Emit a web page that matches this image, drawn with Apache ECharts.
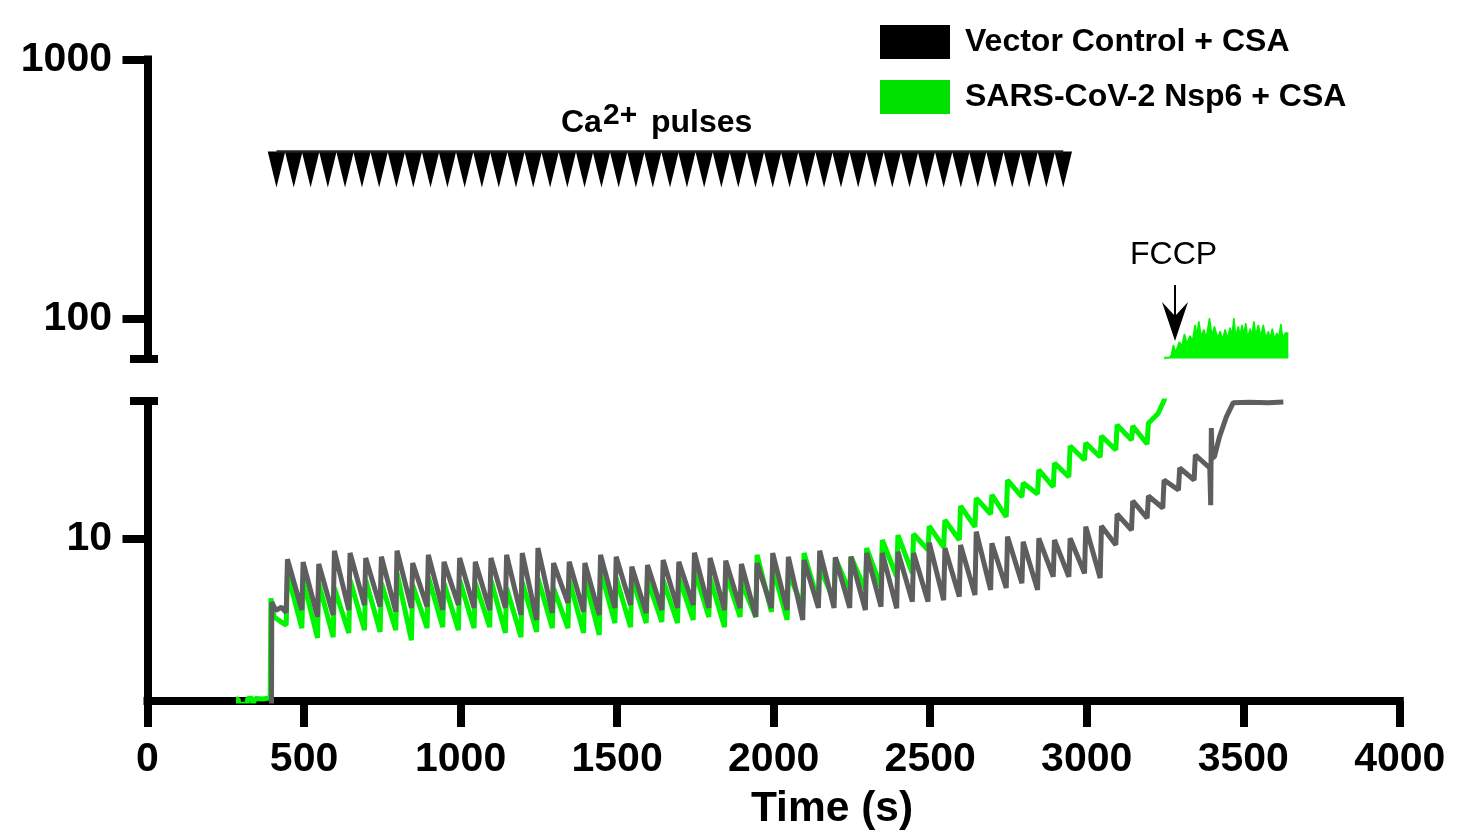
<!DOCTYPE html>
<html><head><meta charset="utf-8">
<script src="https://cdn.jsdelivr.net/npm/echarts@6/dist/echarts.min.js"></script>
<style>html,body{margin:0;padding:0;background:#fff}#c{width:1458px;height:836px}</style>
</head><body><div id="c"></div>
<script>
// ---- data ----
const xTicks = [0, 500, 1000, 1500, 2000, 2500, 3000, 3500, 4000];
const upperTicks = [100, 1000];
const lowerTicks = [10];

// times of the Ca2+ additions seen in the traces (s)
const pulseTimes = [447,497,547,597,647,697,747,797,847,897,947,997,1047,1097,1147,1197,1247,1297,1347,1397,1447,1497,1547,1597,1647,1697,1747,1797,1847,1897,1947,1997,2047,2097,2147,2197,2247,2297,2347,2397,2447,2497,2547,2597,2647,2697,2747,2797,2847,2897,2947,2997,3047,3097,3147,3197,3247,3297,3347];

// Vector Control + CSA (grey)
const grayLead = [[380,2.2],[396,2.2],[397,5.7],[410,5.3],[428,5.45],[443,5.2]];
const grayPeaks = [8.35,8.14,8.01,9.01,8.83,8.45,8.54,9.01,8.08,8.68,8.17,8.45,8.17,8.45,8.68,8.83,9.23,8.08,
  8.17,8.08,8.68,8.54,7.82,7.94,8.30,8.17,8.85,8.45,8.25,8.01,8.08,8.83,8.54,8.30,9.01,8.50,8.54,
  8.83,8.83,8.93,8.83,9.68,9.23,9.48,10.67,9.63,10.21,9.76,10.06,9.91,10.06,11.16,
  11.22,12.49,14.02,14.66,16.89,18.80,21.1];
const grayTroughs = [5.32,5.01,5.09,5.32,5.56,5.48,5.24,5.42,5.48,5.32,5.56,5.42,5.32,5.42,5.09,4.87,5.18,5.66,
  5.24,5.09,5.42,5.56,5.18,5.32,5.42,5.56,5.42,5.32,5.42,5.01,5.42,5.32,4.87,5.42,5.42,5.42,
  5.32,5.48,5.40,5.73,5.73,5.81,5.99,6.08,6.36,6.47,6.75,6.36,7.15,7.15,7.37,7.07,
  9.48,10.83,12.05,13.17,15.46,16.89,18.80];
const grayTail = [[3396,13.5],[3398,26.8],[3401,20.5],[3408,20.8],[3424,24.8],[3446,29.6],[3468,33.6],[3520,33.7],[3580,33.6],[3628,33.8]];

// SARS-CoV-2 Nsp6 + CSA (green)
const greenLead = [[283,2.41],[290,2.41],[291,2.30],[318,2.30],[320,2.42],[335,2.43],[336,2.30],[342,2.30],[344,2.42],[370,2.41],[392,2.44],[394,5.9],[405,5.0],[425,4.8],[443,4.65]];
const greenPeaks = [7.39,6.95,6.76,6.47,6.95,6.95,6.76,7.39,6.64,7.13,6.76,6.95,6.76,6.95,6.47,6.82,7.07,6.47,
  6.95,7.07,7.59,7.07,7.13,6.95,6.95,7.13,7.59,7.07,7.39,6.82,8.68,7.80,7.39,8.83,7.73,8.45,8.55,
  9.23,9.91,10.36,
  10.45,11.22,11.84,13.41,14.39,14.79,16.89,16.45,18.47,19.65,22.86,23.48,24.98,27.55,27.31,
  28.0];
const greenTroughs = [4.53,4.15,4.18,4.34,4.45,4.38,4.45,4.07,4.53,4.57,4.45,4.53,4.57,4.34,4.18,4.38,4.53,4.53,
  4.34,4.26,4.74,4.57,4.74,4.78,4.74,4.87,5.00,4.57,5.00,5.00,5.23,4.87,5.47,5.66,5.81,6.24,
  6.36,6.54,7.15,7.39,
  9.07,9.31,9.91,11.13,12.49,12.16,14.53,14.92,15.88,17.35,20.18,20.73,22.06,24.11,23.27];
const greenTail = [[3228,30.5],[3248,34.5]];
const greenAfterFCCP = [[3250,70.8],[3262,70.5],[3270,72],[3277,79.0],[3284,74],[3296,81.3],[3304,78],[3312,87.1],[3320,80],[3330,85.8],[3338,82],[3346,94.4],[3352,86],[3358,97.4],[3366,85],[3374,90.7],[3382,84],[3392,100.4],[3400,86],[3408,93.2],[3418,84],[3426,89.2],[3434,83],[3442,90.7],[3450,84],[3458,92.1],[3464,86],[3470,100.4],[3476,85],[3484,93.2],[3490,86],[3496,94.4],[3502,87],[3508,96.0],[3514,84],[3522,91.3],[3528,86],[3534,97.4],[3540,86],[3548,94.4],[3556,85],[3564,94.4],[3572,84],[3580,89.2],[3586,84],[3593,91.3],[3600,83],[3607,87.8],[3613,84],[3620,95.2],[3626,84],[3634,87.8],[3644,87.8]];

// arrowheads of the "Ca2+ pulses" annotation row (s)
const pulseMarks = [412,467,521,576,631,685,740,795,849,904,958,1013,1068,1122,1177,1232,1286,1341,1396,1450,1505,1560,1614,1669,1723,1778,1833,1887,1942,1997,2051,2106,2161,2215,2270,2324,2379,2434,2488,2543,2598,2652,2707,2762,2816,2871,2925];

const seriesNames = ['Vector Control + CSA', 'SARS-CoV-2 Nsp6 + CSA'];

// ---- build traces ----
function trace(lead, peaks, troughs, tail) {
  const out = lead.slice();
  for (let i = 0; i < peaks.length; i++) {
    out.push([pulseTimes[i], peaks[i]]);
    if (i < troughs.length) {
      const next = pulseTimes[i + 1];
      out.push([next !== undefined ? next - 4 : pulseTimes[i] + 46, troughs[i]]);
    }
  }
  return out.concat(tail);
}
const grayData = trace(grayLead, grayPeaks, grayTroughs, grayTail);
const greenData = trace(greenLead, greenPeaks, greenTroughs, greenTail).concat(greenAfterFCCP);
const greenUpperData = greenTail.slice(-1).concat(greenAfterFCCP);

const FONT = '"Liberation Sans", Arial, Helvetica, sans-serif';
const GRAY = '#5e5e5e', GREEN = '#00f500';
const markLevel = 441;

const chart = echarts.init(document.getElementById('c'), null, {renderer: 'canvas'});
const axisLineStyle = {color: '#000', width: 8, cap: 'square'};
chart.setOption({
  animation: false,
  backgroundColor: '#fff',
  grid: [
    {left: 147.5, top: 59.5, width: 1252.3, height: 299.1},
    {left: 147.5, top: 401, width: 1252.3, height: 300}
  ],
  xAxis: [
    {gridIndex: 0, type: 'value', min: 0, max: 4000, show: false},
    {gridIndex: 1, type: 'value', min: 0, max: 4000, interval: 500,
     axisLine: {show: true, onZero: false, lineStyle: axisLineStyle},
     axisTick: {show: true, length: 26, lineStyle: {width: 8, color: '#000'}},
     axisLabel: {margin: 38, fontSize: 41, fontWeight: 'bold', color: '#000', fontFamily: FONT,
                 formatter: v => String(v)},
     splitLine: {show: false}}
  ],
  yAxis: [
    {gridIndex: 0, type: 'log', logBase: 10, min: 70, max: 1000, offset: 3.5,
     axisLine: {show: true, lineStyle: axisLineStyle},
     axisTick: {show: true, length: 25, lineStyle: {width: 8, color: '#000'}, customValues: upperTicks},
     axisLabel: {margin: 32, fontSize: 41, fontWeight: 'bold', color: '#000', fontFamily: FONT,
                 customValues: upperTicks, formatter: v => String(Math.round(v))},
     splitLine: {show: false}, minorTick: {show: false}},
    {gridIndex: 1, type: 'log', logBase: 10, min: 2.369, max: 34.1, offset: 3.5,
     axisLine: {show: true, lineStyle: axisLineStyle},
     axisTick: {show: true, length: 25, lineStyle: {width: 8, color: '#000'}, customValues: lowerTicks},
     axisLabel: {margin: 32, fontSize: 41, fontWeight: 'bold', color: '#000', fontFamily: FONT,
                 customValues: lowerTicks, formatter: v => String(Math.round(v))},
     splitLine: {show: false}, minorTick: {show: false}}
  ],
  legend: {
    left: 875, top: 20, orient: 'vertical', itemWidth: 70, itemHeight: 34, itemGap: 21,
    icon: 'rect', selectedMode: false,
    textStyle: {fontSize: 32, fontWeight: 'bold', color: '#000', fontFamily: FONT, padding: [10, 0, 0, 10]},
    data: [
      {name: seriesNames[0], itemStyle: {color: '#000'}},
      {name: seriesNames[1], itemStyle: {color: '#00e100'}}
    ]
  },
  series: [
    {name: seriesNames[1], type: 'line', xAxisIndex: 1, yAxisIndex: 1, data: greenData,
     showSymbol: false, clip: true, lineStyle: {color: GREEN, width: 5}, itemStyle: {color: GREEN}},
    {name: seriesNames[1], type: 'line', xAxisIndex: 0, yAxisIndex: 0, data: greenUpperData,
     showSymbol: false, clip: true, lineStyle: {color: GREEN, width: 1.5}, itemStyle: {color: GREEN},
     areaStyle: {color: GREEN, opacity: 1, origin: 'start'}},
    {name: seriesNames[0], type: 'line', xAxisIndex: 1, yAxisIndex: 1, data: grayData,
     showSymbol: false, clip: true, lineStyle: {color: GRAY, width: 5}, itemStyle: {color: GRAY}},
    {name: 'pulse line', type: 'line', xAxisIndex: 0, yAxisIndex: 0,
     data: [[pulseMarks[0], markLevel], [pulseMarks[pulseMarks.length - 1], markLevel]],
     showSymbol: false, lineStyle: {color: '#222', width: 2.5}, silent: true},
    {name: 'pulse marks', type: 'scatter', xAxisIndex: 0, yAxisIndex: 0,
     data: pulseMarks.map(t => [t, markLevel]),
     symbol: 'path://M0,0 L20,0 L10,42 Z', symbolSize: [17.5, 36], symbolOffset: [0, 18],
     itemStyle: {color: '#000', opacity: 1}, silent: true, clip: false}
  ],
  graphic: [
    {type: 'rect', shape: {x: 130, y: 355, width: 28, height: 8}, style: {fill: '#000'}},
    {type: 'rect', shape: {x: 130, y: 397, width: 28, height: 8}, style: {fill: '#000'}},
    {type: 'text', style: {x: 561, y: 107, text: 'Ca', font: 'bold 32px ' + FONT, fill: '#000', textVerticalAlign: 'top'}},
    {type: 'text', style: {x: 603, y: 101, text: '2+', font: 'bold 30px ' + FONT, fill: '#000', textVerticalAlign: 'top'}},
    {type: 'text', style: {x: 651, y: 107, text: 'pulses', font: 'bold 32px ' + FONT, fill: '#000', textVerticalAlign: 'top'}},
    {type: 'text', style: {x: 1130, y: 239, text: 'FCCP', font: '32px ' + FONT, fill: '#000', textVerticalAlign: 'top'}},
    {type: 'line', shape: {x1: 1175, y1: 285, x2: 1175, y2: 318}, style: {stroke: '#000', lineWidth: 2}},
    {type: 'polygon', shape: {points: [[1162, 302], [1175, 341], [1188, 302], [1175, 316]]}, style: {fill: '#000'}},
    {type: 'text', style: {x: 832, y: 788, text: 'Time (s)', font: 'bold 42.5px ' + FONT, fill: '#000', textAlign: 'center', textVerticalAlign: 'top'}}
  ]
});
</script>
</body></html>
